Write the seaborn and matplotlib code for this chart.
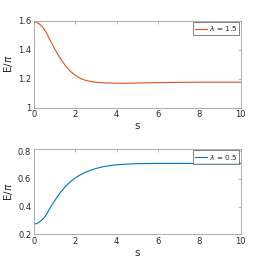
import numpy as np
import pandas as pd
import seaborn as sns
import matplotlib.pyplot as plt

s = [0, 0.125, 0.25, 0.375, 0.5, 0.625, 0.75, 0.875, 1, 1.25, 1.5, 1.75, 2, 2.25, 2.5, 2.75,
     3, 3.25, 3.5, 4, 4.5, 5, 6, 7, 8, 9, 10]
E_15 = [1.592, 1.588, 1.578, 1.562, 1.54, 1.51, 1.475, 1.44, 1.405, 1.345, 1.293, 1.252, 1.222,
        1.201, 1.188, 1.18, 1.175, 1.172, 1.17, 1.168, 1.168, 1.17, 1.172, 1.174, 1.175, 1.175, 1.175]
E_05 = [0.274, 0.277, 0.287, 0.301, 0.32, 0.348, 0.382, 0.413, 0.442, 0.496, 0.541, 0.578, 0.607,
        0.63, 0.648, 0.663, 0.675, 0.685, 0.692, 0.702, 0.707, 0.710, 0.712, 0.712, 0.711, 0.711, 0.711]

sns.set_style("white")
plt.rcParams['font.family'] = ['DejaVu Sans']
plt.rcParams['mathtext.fontset'] = 'dejavusans'

fig = plt.figure(figsize=(2.67, 2.67), dpi=100)
ax1 = fig.add_axes([0.127, 0.597, 0.775, 0.326])
ax2 = fig.add_axes([0.127, 0.1225, 0.775, 0.32])

df1 = pd.DataFrame({'s': s, 'E': E_15})
df2 = pd.DataFrame({'s': s, 'E': E_05})
sns.lineplot(data=df1, x='s', y='E', ax=ax1, color='#D95319', lw=0.8, label='$\\lambda$ = 1.5')
sns.lineplot(data=df2, x='s', y='E', ax=ax2, color='#0072BD', lw=0.8, label='$\\lambda$ = 0.5')

ax1.set_ylim(1, 1.6)
ax1.set_yticks([1, 1.2, 1.4, 1.6])
ax1.set_yticklabels(['1', '1.2', '1.4', '1.6'])
ax2.set_ylim(0.2, 0.817)
ax2.set_yticks([0.2, 0.4, 0.6, 0.8])

for ax in (ax1, ax2):
    ax.set_xlim(0, 10)
    ax.set_xticks([0, 2, 4, 6, 8, 10])
    ax.set_xlabel('s', fontsize=7.5, labelpad=1.5, color='#262626')
    ax.set_ylabel('E/$\\pi$', fontsize=7.5, labelpad=2, color='#262626')
    ax.tick_params(direction='in', length=2, width=0.5, labelsize=6, pad=2,
                   top=True, right=True, color='#999999', labelcolor='#262626')
    for sp in ax.spines.values():
        sp.set_linewidth(0.6)
        sp.set_color('#a0a0a0')
    leg = ax.legend(loc='upper right', fontsize=5.3, frameon=True, fancybox=False,
                    handlelength=1.6, handletextpad=0.25, borderpad=0.3, borderaxespad=0.2,
                    labelspacing=0.2)
    leg.get_frame().set_edgecolor('#262626')
    leg.get_frame().set_linewidth(0.5)

fig.savefig('out.png', dpi=100)
